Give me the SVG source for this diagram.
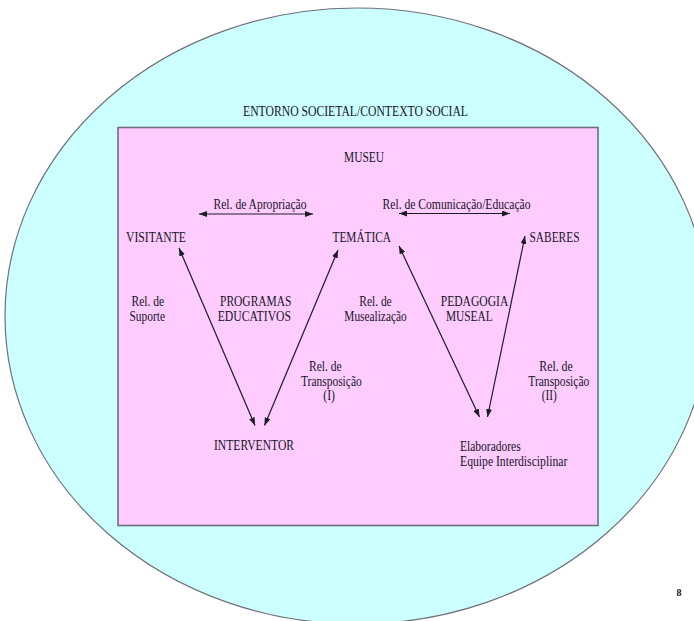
<svg xmlns="http://www.w3.org/2000/svg" width="694" height="621" viewBox="0 0 694 621">
<style>
text{font-family:"Liberation Serif","Times New Roman",serif;font-size:14px;fill:#15151f;}
.ln{stroke:#1c1c24;stroke-width:1.2;fill:none;marker-start:url(#ah);marker-end:url(#ah);}
</style>
<defs>
<marker id="ah" viewBox="0 0 8 6" refX="8" refY="3" markerWidth="8" markerHeight="6" markerUnits="userSpaceOnUse" orient="auto-start-reverse">
<path d="M0,0 L8,3 L0,6 z" fill="#1c1c24"/>
</marker>
</defs>
<rect width="694" height="621" fill="#ffffff"/>
<g id="entorno">
<ellipse cx="357" cy="316" rx="352" ry="308" fill="#ccffff" stroke="#707078" stroke-width="1.2"/>
<text x="243" y="116" textLength="225" lengthAdjust="spacingAndGlyphs">ENTORNO SOCIETAL/CONTEXTO SOCIAL</text>
</g>
<g id="museu">
<rect x="118" y="127.5" width="480" height="398" fill="#ffccff" stroke="#6e6e7e" stroke-width="1.6"/>
<text x="344" y="161.5" textLength="40" lengthAdjust="spacingAndGlyphs">MUSEU</text>
</g>
<g id="connectors">
<line class="ln" x1="199" y1="214" x2="313" y2="214"/>
<line class="ln" x1="399" y1="213.5" x2="510" y2="213.5"/>
<line class="ln" x1="179" y1="248" x2="255" y2="425.5"/>
<line class="ln" x1="338" y1="250" x2="264.5" y2="425.5"/>
<line class="ln" x1="399" y1="246" x2="479.5" y2="417"/>
<line class="ln" x1="525" y1="236" x2="487.5" y2="417"/>
</g>
<g id="visitante"><text x="126" y="242" textLength="60" lengthAdjust="spacingAndGlyphs">VISITANTE</text></g>
<g id="tematica"><text x="332.5" y="242" textLength="58.5" lengthAdjust="spacingAndGlyphs">TEMÁTICA</text></g>
<g id="saberes"><text x="529.5" y="242" textLength="50" lengthAdjust="spacingAndGlyphs">SABERES</text></g>
<g id="interventor"><text x="214" y="450" textLength="80" lengthAdjust="spacingAndGlyphs">INTERVENTOR</text></g>
<g id="elaboradores">
<text x="460" y="450.5" textLength="60.7" lengthAdjust="spacingAndGlyphs">Elaboradores</text>
<text x="460" y="465.5" textLength="107.3" lengthAdjust="spacingAndGlyphs">Equipe Interdisciplinar</text>
</g>
<g id="labels">
<text x="213.5" y="209" textLength="93" lengthAdjust="spacingAndGlyphs">Rel. de Apropriação</text>
<text x="382.5" y="209" textLength="148" lengthAdjust="spacingAndGlyphs">Rel. de Comunicação/Educação</text>
<text x="131.5" y="306" textLength="32.7" lengthAdjust="spacingAndGlyphs">Rel. de</text>
<text x="129.5" y="321" textLength="35.5" lengthAdjust="spacingAndGlyphs">Suporte</text>
<text x="220" y="306" textLength="71.5" lengthAdjust="spacingAndGlyphs">PROGRAMAS</text>
<text x="217.7" y="321" textLength="73.3" lengthAdjust="spacingAndGlyphs">EDUCATIVOS</text>
<text x="359.3" y="306" textLength="32.4" lengthAdjust="spacingAndGlyphs">Rel. de</text>
<text x="344.3" y="321" textLength="62.4" lengthAdjust="spacingAndGlyphs">Musealização</text>
<text x="440.7" y="306" textLength="67.6" lengthAdjust="spacingAndGlyphs">PEDAGOGIA</text>
<text x="446" y="321" textLength="46.7" lengthAdjust="spacingAndGlyphs">MUSEAL</text>
<text x="309" y="370.5" textLength="32.7" lengthAdjust="spacingAndGlyphs">Rel. de</text>
<text x="301" y="385.5" textLength="60.7" lengthAdjust="spacingAndGlyphs">Transposição</text>
<text x="323.3" y="400" textLength="11.7" lengthAdjust="spacingAndGlyphs">(I)</text>
<text x="539.3" y="370.5" textLength="33.4" lengthAdjust="spacingAndGlyphs">Rel. de</text>
<text x="528.3" y="385.5" textLength="61" lengthAdjust="spacingAndGlyphs">Transposição</text>
<text x="541.7" y="400" textLength="15" lengthAdjust="spacingAndGlyphs">(II)</text>
</g>
<text x="676.5" y="596" style="font-size:10px;font-weight:bold">8</text>
</svg>
